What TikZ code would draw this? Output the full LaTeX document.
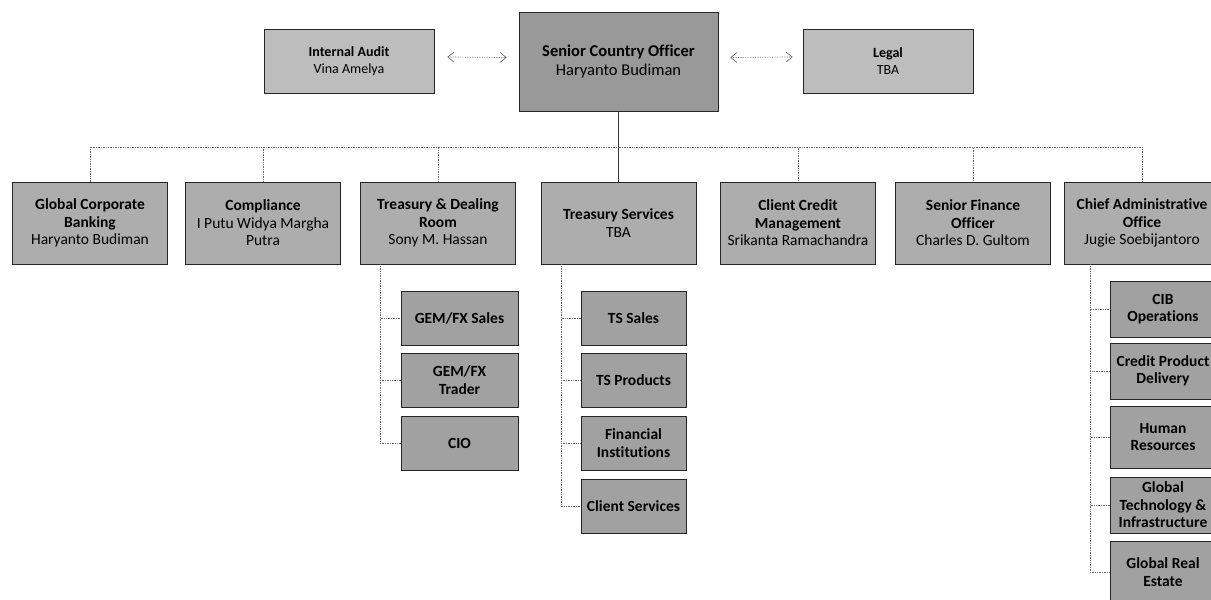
\documentclass[tikz,border=0pt]{standalone}
\usepackage{fontspec}
\setmainfont[Ligatures=NoCommon]{Carlito}
\usetikzlibrary{arrows.meta}
\begin{document}
\begin{tikzpicture}[x=1pt,y=1pt]
	\tikzstyle{every node}+=[inner sep=1pt]
	\tikzstyle{box}=[draw=black!85, line width=0.7pt, fill=black!32, align=center, font=\fontsize{15.5}{17.5}\selectfont]
	\tikzstyle{side}=[box, fill=black!26, minimum width=170pt, minimum height=64pt, font=\fontsize{14}{17}\selectfont]
	\tikzstyle{head}=[box, fill=black!40, minimum width=199pt, minimum height=99pt, font=\fontsize{16.5}{19}\selectfont]
	\tikzstyle{dept}=[box, minimum width=155pt, minimum height=82pt]
	\tikzstyle{unit}=[box, fill=black!37, minimum height=54pt]
	\tikzstyle{link}=[black!60, densely dotted, line width=0.7pt]
	\tikzstyle{trunk}=[black!80, line width=0.8pt]
	\tikzstyle{both}=[link, {Straight Barb[length=6pt,width=10pt]}-{Straight Barb[length=6pt,width=10pt]}]
	\useasboundingbox (0,0) rectangle (1211,-600);
	\clip (0,0) rectangle (1211,-600);
	\node [head] (sco) at (618.5,-61.5) {\textbf{Senior Country Officer}\\Haryanto Budiman};
	\node [side] (ia) at (349,-61) {\textbf{Internal Audit}\\Vina Amelya};
	\node [side] (legal) at (888,-61) {\textbf{Legal}\\TBA};
	\draw [both] ([xshift=13pt,yshift=4pt]ia.east) -- ([xshift=-12pt,yshift=4pt]sco.west);
	\draw [both] ([xshift=12pt,yshift=4pt]sco.east) -- ([xshift=-10pt,yshift=4pt]legal.west);
	\node [dept] (gcb) at (90,-223) {\textbf{Global Corporate}\\\textbf{Banking}\\Haryanto Budiman};
	\node [dept] (comp) at (263,-223) {\textbf{Compliance}\\I Putu Widya Margha\\Putra};
	\node [dept] (tdr) at (438,-223) {\textbf{Treasury \& Dealing}\\\textbf{Room}\\Sony M. Hassan};
	\node [dept] (ts) at (618.5,-223) {\textbf{Treasury Services}\\TBA};
	\node [dept] (ccm) at (798,-223) {\textbf{Client Credit}\\\textbf{Management}\\Srikanta Ramachandra};
	\node [dept] (sfo) at (973,-223) {\textbf{Senior Finance}\\\textbf{Officer}\\Charles D. Gultom};
	\node [dept] (cao) at (1142,-223) {\textbf{Chief Administrative}\\\textbf{Office}\\Jugie Soebijantoro};
	\draw [trunk] (sco.south) -- (ts.north);
	\coordinate (bus) at (618.5,-147);
	\foreach \d in {gcb,comp,tdr,ccm,sfo,cao}
		\draw [link] (bus) -| (\d.north);
	\node [unit, minimum width=117pt] (gfs) at (459.5,-318) {\textbf{GEM/FX Sales}};
	\node [unit, minimum width=117pt] (gft) at (459.5,-380) {\textbf{GEM/FX}\\\textbf{Trader}};
	\node [unit, minimum width=117pt] (cio) at (459.5,-443) {\textbf{CIO}};
	\foreach \u in {gfs,gft,cio}
		\draw [link] ([xshift=-58pt]tdr.south) |- (\u.west);
	\node [unit, minimum width=105pt] (tss) at (633.5,-318) {\textbf{TS Sales}};
	\node [unit, minimum width=105pt] (tsp) at (633.5,-380) {\textbf{TS Products}};
	\node [unit, minimum width=105pt] (fi) at (633.5,-443) {\textbf{Financial}\\\textbf{Institutions}};
	\node [unit, minimum width=105pt] (cs) at (633.5,-506) {\textbf{Client Services}};
	\foreach \u in {tss,tsp,fi,cs}
		\draw [link] ([xshift=-57.5pt]ts.south) |- (\u.west);
	\node [unit, minimum width=106pt, minimum height=56pt] (cib) at (1163,-309) {\textbf{CIB}\\\textbf{Operations}};
	\node [unit, minimum width=106pt, minimum height=56pt] (cpd) at (1163,-371) {\textbf{Credit Product}\\\textbf{Delivery}};
	\node [unit, minimum width=106pt, minimum height=62pt] (hr) at (1163,-437) {\textbf{Human}\\\textbf{Resources}};
	\node [unit, minimum width=106pt, minimum height=56pt] (gti) at (1163,-505) {\textbf{Global}\\\textbf{Technology \&}\\\textbf{Infrastructure}};
	\node [unit, minimum width=106pt, minimum height=62pt] (gre) at (1163,-572) {\textbf{Global Real}\\\textbf{Estate}};
	\foreach \u in {cib,cpd,hr,gti,gre}
		\draw [link] ([xshift=-52pt]cao.south) |- (\u.west);
\end{tikzpicture}
\end{document}
